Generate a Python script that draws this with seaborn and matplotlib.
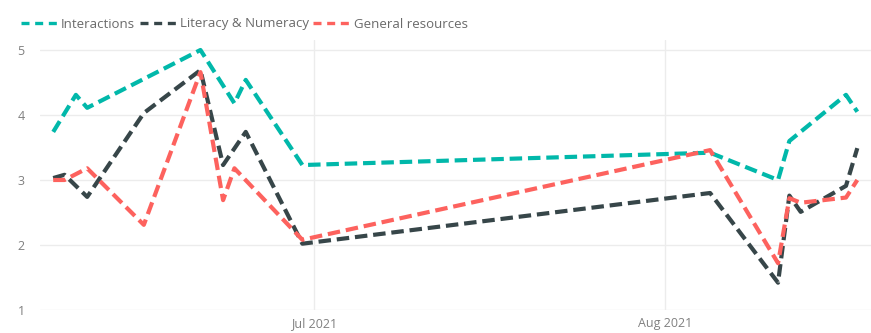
import matplotlib
matplotlib.use("Agg")
import matplotlib.pyplot as plt
import seaborn as sns
import pandas as pd

# Scores per theme over the summer term
interactions_dates = ["2021-06-08", "2021-06-10", "2021-06-11", "2021-06-21", "2021-06-24",
                      "2021-06-25", "2021-06-30", "2021-08-05", "2021-08-11", "2021-08-12",
                      "2021-08-17", "2021-08-18"]
interactions_vals = [3.74, 4.31, 4.11, 5.0, 4.18, 4.54, 3.23, 3.42, 3.0, 3.6, 4.31, 4.05]

literacy_dates = ["2021-06-08", "2021-06-09", "2021-06-11", "2021-06-16", "2021-06-21",
                  "2021-06-23", "2021-06-25", "2021-06-30", "2021-08-05", "2021-08-11",
                  "2021-08-12", "2021-08-13", "2021-08-17", "2021-08-18"]
literacy_vals = [3.03, 3.08, 2.74, 4.03, 4.69, 3.23, 3.74, 2.02, 2.80, 1.42, 2.76, 2.51, 2.91, 3.49]

general_dates = ["2021-06-08", "2021-06-09", "2021-06-11", "2021-06-16", "2021-06-21",
                 "2021-06-23", "2021-06-24", "2021-06-30", "2021-08-05", "2021-08-11",
                 "2021-08-12", "2021-08-13", "2021-08-17", "2021-08-18"]
general_vals = [3.0, 3.0, 3.18, 2.31, 4.66, 2.69, 3.18, 2.08, 3.46, 1.72, 2.72, 2.65, 2.73, 3.0]

series_names = ["Interactions", "Literacy & Numeracy", "General resources"]
series_colors = ["#01B8AA", "#374649", "#FD625E"]
y_ticks = [1, 2, 3, 4, 5]
x_ticks = ["2021-07-01", "2021-08-01"]
x_tick_labels = ["Jul 2021", "Aug 2021"]

frames = []
for name, d, v in zip(series_names,
                      [interactions_dates, literacy_dates, general_dates],
                      [interactions_vals, literacy_vals, general_vals]):
    frames.append(pd.DataFrame({"date": pd.to_datetime(d), "score": v, "series": name}))
df = pd.concat(frames, ignore_index=True)

sns.set_theme(style="white")
plt.rcParams["font.family"] = ["Open Sans", "DejaVu Sans"]

fig = plt.figure(figsize=(8.71, 3.33), dpi=100)
ax = fig.add_axes([40 / 871, 23 / 333, 831 / 871, 270 / 333])

palette = dict(zip(series_names, series_colors))
dash_pattern = (3.0, 1.4)
dashes = {n: dash_pattern for n in series_names}
sns.lineplot(data=df, x="date", y="score", hue="series", style="series",
             hue_order=series_names, style_order=series_names,
             palette=palette, dashes=dashes, linewidth=3.0, ax=ax, legend=False)

ax.set_ylim(1, 5 + 10 / 65)
ax.set_xlim(pd.Timestamp("2021-06-06 20:00"), pd.Timestamp("2021-08-19 05:00"))
ax.set_yticks(y_ticks)
ax.set_yticklabels([str(t) for t in y_ticks])
ax.set_xticks(pd.to_datetime(x_ticks))
ax.set_xticklabels(x_tick_labels)
ax.set_xlabel("")
ax.set_ylabel("")
ax.tick_params(axis="both", length=0, labelsize=9, labelcolor="#808080")
ax.tick_params(axis="y", pad=11)
ax.tick_params(axis="x", pad=5)
for s in ax.spines.values():
    s.set_visible(False)
ax.grid(True, color="#ececec", linewidth=1)
ax.set_axisbelow(True)

handles = [plt.Line2D([0], [0], color=c, linewidth=2.4, dashes=(2.4, 1.7)) for c in series_colors]
fig.legend(handles, series_names, loc="center left", bbox_to_anchor=(14 / 871, 1 - 24 / 333),
           ncol=3, frameon=False, fontsize=9.5, labelcolor="#6a6a6a",
           handlelength=2.9, handletextpad=0.15, columnspacing=0.35, borderpad=0)

fig.savefig("out.png", dpi=100)
